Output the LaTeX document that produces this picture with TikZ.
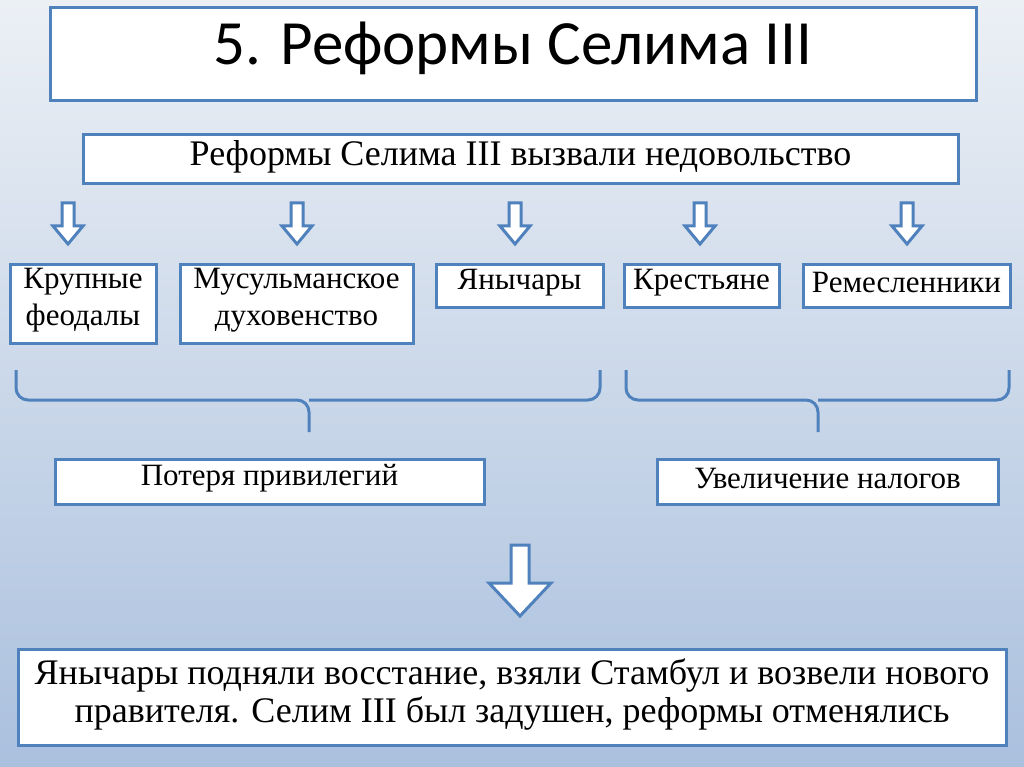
\documentclass[tikz,border=0pt]{standalone}
\usepackage{fontspec}
\setmainfont{Liberation Serif}
\newfontfamily\titlefont{Carlito}
\begin{document}
\begin{tikzpicture}[x=1pt,y=-1pt]
\definecolor{bl}{HTML}{4F81BD}
\tikzset{bx/.style={draw=bl,line width=3pt,fill=white,inner sep=0},
 tx/.style={align=center,font=\fontsize{31}{37}\selectfont,inner sep=0},
 big/.style={font=\fontsize{36}{38}\selectfont},
 harrow/.style={draw=bl,line width=3pt,fill=white,line join=miter}}
\shade[top color={rgb,255:red,236;green,240;blue,245},bottom color={rgb,255:red,170;green,192;blue,222}] (0,0) rectangle (1024,767);
\useasboundingbox (0,0) rectangle (1024,767);
\node[bx,minimum width=926,minimum height=93] (t) at (513,54.5) {};
\node[tx,font=\titlefont\fontsize{63}{70}\selectfont] (tt) at ([yshift=6]t.center) {5. Реформы Селима III};
\node[bx,minimum width=875,minimum height=49] (s) at (520.5,159.5) {};
\node[tx,big] (st) at ([yshift=3]s.center) {Реформы Селима III вызвали недовольство};
\node[bx,minimum width=146,minimum height=79] (a) at (83,303.5) {};
\node[tx] (at) at ([yshift=3]a.center) {Крупные\\феодалы};
\node[bx,minimum width=233,minimum height=79] (b) at (296.5,303.5) {};
\node[tx] (bt) at ([yshift=3]b.center) {Мусульманское\\духовенство};
\node[bx,minimum width=167,minimum height=43] (c) at (519.5,285.5) {};
\node[tx] (ct) at ([yshift=3]c.center) {Янычары};
\node[bx,minimum width=155,minimum height=43] (d) at (701.5,285.5) {};
\node[tx] (dt) at ([yshift=3]d.center) {Крестьяне};
\node[bx,minimum width=207,minimum height=43] (e) at (906.5,285.5) {};
\node[tx] (et) at ([yshift=3]e.center) {Ремесленники};
\node[bx,minimum width=429,minimum height=45] (p) at (269.5,481.5) {};
\node[tx] (pt) at ([yshift=3]p.center) {Потеря привилегий};
\node[bx,minimum width=341,minimum height=45] (u) at (827.5,481.5) {};
\node[tx] (ut) at ([yshift=3]u.center) {Увеличение налогов};
\node[bx,minimum width=988,minimum height=96] (f) at (512,697) {};
\node[tx,big] (ft) at ([yshift=3]f.center) {Янычары подняли восстание, взяли Стамбул и возвели нового\\правителя. Селим III был задушен, реформы отменялись};
\foreach \cx in {68,297,515,700,907}
 \draw[harrow] (\cx-6,203) -- (\cx+6,203) -- (\cx+6,226) -- (\cx+15,226) -- (\cx,244) -- (\cx-15,226) -- (\cx-6,226) -- cycle;
\draw[harrow] (511,545) -- (529,545) -- (529,583) -- (551,583) -- (520,616) -- (489,583) -- (511,583) -- cycle;
\draw[bl,line width=3pt,rounded corners=12pt] (16,370) -- (16,400) -- (309,400) -- (309,432);
\draw[bl,line width=3pt,rounded corners=12pt] (600,370) -- (600,400) -- (309,400);
\draw[bl,line width=3pt,rounded corners=12pt] (626,370) -- (626,400) -- (818,400) -- (818,432);
\draw[bl,line width=3pt,rounded corners=12pt] (1009,370) -- (1009,400) -- (818,400);
\end{tikzpicture}
\end{document}
